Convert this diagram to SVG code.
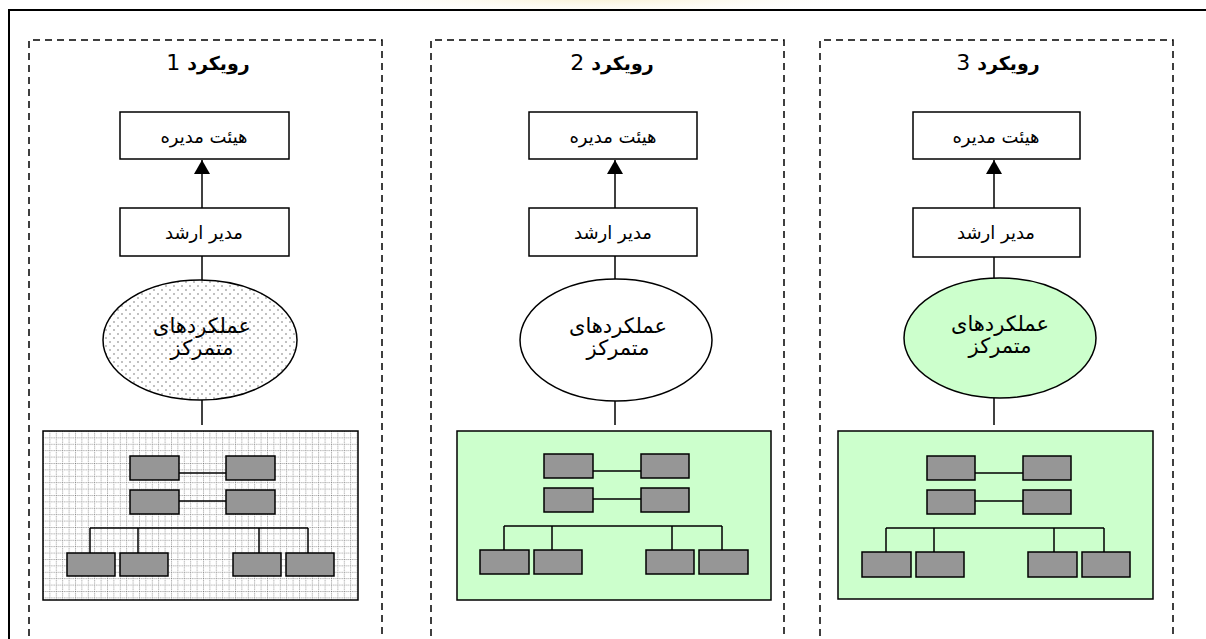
<svg xmlns="http://www.w3.org/2000/svg" width="1206" height="639" viewBox="0 0 1206 639">
<style>
.frame{fill:none;stroke:#000;stroke-width:2}
.panel{fill:none;stroke:#000;stroke-width:1.5;stroke-dasharray:7 5}
.box{fill:#fff;stroke:#000;stroke-width:1.5}
.ell{stroke:#000;stroke-width:1.5}
.org{stroke:#000;stroke-width:1.5}
.mini{fill:#969696;stroke:#000;stroke-width:1.5}
.ln{fill:none;stroke:#000;stroke-width:1.5}
.lbl{font-family:"DejaVu Sans","Noto Sans",sans-serif;font-size:18px;fill:#000;text-anchor:middle}
.el{font-family:"DejaVu Sans","Noto Sans",sans-serif;font-size:21px;fill:#000;text-anchor:middle}
.ttl{font-family:"DejaVu Sans","Noto Sans",sans-serif;font-size:22px;fill:#000;text-anchor:middle}
.tw{font-weight:bold;font-size:19px}
</style>
<defs>
<marker id="ah" markerUnits="userSpaceOnUse" markerWidth="16" markerHeight="16" refX="14" refY="8" orient="auto">
<path d="M0,0 L14,8 L0,16 Z" fill="#000"/>
</marker>
<pattern id="dots" width="8" height="8" patternUnits="userSpaceOnUse">
<rect width="8" height="8" fill="#fff"/>
<circle cx="2" cy="2" r="0.7" fill="#555"/>
<circle cx="6" cy="6" r="0.7" fill="#555"/>
</pattern>
<pattern id="grid" width="6.4" height="6.4" patternUnits="userSpaceOnUse" x="43" y="431">
<rect width="6.4" height="6.4" fill="#fff"/>
<path d="M0,0.5 H6.4 M0.5,0 V6.4" stroke="#666" stroke-width="0.7" stroke-dasharray="1 1.1"/>
</pattern>
<radialGradient id="wm" cx="0.5" cy="0.5" r="0.5">
<stop offset="0" stop-color="#f7ecc4"/>
<stop offset="1" stop-color="#fff" stop-opacity="0"/>
</radialGradient>
</defs>
<rect width="1206" height="639" fill="#fff"/>
<ellipse cx="600" cy="-5" rx="290" ry="22" fill="url(#wm)"/>
<path class="frame" d="M9,660 V10 H1210"/>

<g id="panel1">
<path class="panel" d="M29,660 V40 H382 V660"/>
<text class="ttl" x="208" y="70" direction="rtl"><tspan class="tw">رویکرد</tspan> 1</text>
</g>
<g id="panel2">
<path class="panel" d="M431,660 V40 H784 V660"/>
<text class="ttl" x="612" y="70" direction="rtl"><tspan class="tw">رویکرد</tspan>  2</text>
</g>
<g id="panel3">
<path class="panel" d="M820,660 V40 H1173 V660"/>
<text class="ttl" x="998" y="70" direction="rtl"><tspan class="tw">رویکرد</tspan> 3</text>
</g>

<g id="connectors">
<line class="ln" x1="202" y1="208" x2="202" y2="160" marker-end="url(#ah)"/>
<line class="ln" x1="202" y1="256" x2="202" y2="280"/>
<line class="ln" x1="202" y1="400" x2="202" y2="425"/>
<line class="ln" x1="615" y1="208" x2="615" y2="160" marker-end="url(#ah)"/>
<line class="ln" x1="615" y1="256" x2="615" y2="279"/>
<line class="ln" x1="615" y1="401" x2="615" y2="425"/>
<line class="ln" x1="994" y1="208" x2="994" y2="160" marker-end="url(#ah)"/>
<line class="ln" x1="994" y1="257" x2="994" y2="278"/>
<line class="ln" x1="994" y1="398" x2="994" y2="425"/>
</g>

<g id="p1-board"><rect class="box" x="120" y="112" width="169" height="47"/><text class="lbl" x="204" y="143" direction="rtl">هیئت مدیره</text></g>
<g id="p1-senior"><rect class="box" x="120" y="208" width="169" height="48"/><text class="lbl" x="204" y="239" direction="rtl">مدیر ارشد</text></g>
<g id="p1-central"><ellipse class="ell" cx="200" cy="340" rx="97" ry="60" fill="url(#dots)"/><text class="el" x="202" y="333" direction="rtl">عملکردهای</text><text class="el" x="202" y="355" direction="rtl">متمرکز</text></g>
<g id="p1-org">
<rect class="org" x="43" y="431" width="315" height="169" fill="url(#grid)"/>
<path class="ln" d="M179,473 H226 M179,501 H226 M90,528 H308 M90,528 V553 M138,528 V553 M259,528 V553 M308,528 V553"/>
<rect class="mini" x="130" y="456" width="49" height="24"/><rect class="mini" x="226" y="456" width="49" height="24"/>
<rect class="mini" x="130" y="490" width="49" height="24"/><rect class="mini" x="226" y="490" width="49" height="24"/>
<rect class="mini" x="67" y="553" width="48" height="23"/><rect class="mini" x="120" y="553" width="48" height="23"/>
<rect class="mini" x="233" y="553" width="48" height="23"/><rect class="mini" x="286" y="553" width="48" height="23"/>
</g>

<g id="p2-board"><rect class="box" x="529" y="112" width="168" height="47"/><text class="lbl" x="613" y="143" direction="rtl">هیئت مدیره</text></g>
<g id="p2-senior"><rect class="box" x="529" y="208" width="168" height="48"/><text class="lbl" x="613" y="239" direction="rtl">مدیر ارشد</text></g>
<g id="p2-central"><ellipse class="ell" cx="616" cy="340" rx="96" ry="61" fill="#fff"/><text class="el" x="618" y="333" direction="rtl">عملکردهای</text><text class="el" x="618" y="355" direction="rtl">متمرکز</text></g>
<g id="p2-org">
<rect class="org" x="457" y="431" width="314" height="169" fill="#ccffcc"/>
<path class="ln" d="M593,471 H641 M593,499 H641 M504,526 H722 M504,526 V550 M552,526 V550 M672,526 V550 M722,526 V550"/>
<rect class="mini" x="544" y="454" width="49" height="24"/><rect class="mini" x="641" y="454" width="48" height="24"/>
<rect class="mini" x="544" y="488" width="49" height="24"/><rect class="mini" x="641" y="488" width="48" height="24"/>
<rect class="mini" x="480" y="550" width="49" height="24"/><rect class="mini" x="534" y="550" width="48" height="24"/>
<rect class="mini" x="646" y="550" width="48" height="24"/><rect class="mini" x="699" y="550" width="49" height="24"/>
</g>

<g id="p3-board"><rect class="box" x="913" y="112" width="167" height="47"/><text class="lbl" x="996" y="143" direction="rtl">هیئت مدیره</text></g>
<g id="p3-senior"><rect class="box" x="913" y="208" width="167" height="49"/><text class="lbl" x="996" y="239" direction="rtl">مدیر ارشد</text></g>
<g id="p3-central"><ellipse class="ell" cx="1000" cy="338" rx="96" ry="60" fill="#ccffcc"/><text class="el" x="1000" y="331" direction="rtl">عملکردهای</text><text class="el" x="1000" y="353" direction="rtl">متمرکز</text></g>
<g id="p3-org">
<rect class="org" x="838" y="431" width="315" height="168" fill="#ccffcc"/>
<path class="ln" d="M975,473 H1023 M975,501 H1023 M886,528 H1104 M886,528 V552 M934,528 V552 M1054,528 V552 M1104,528 V552"/>
<rect class="mini" x="927" y="456" width="48" height="24"/><rect class="mini" x="1023" y="456" width="48" height="24"/>
<rect class="mini" x="927" y="490" width="48" height="24"/><rect class="mini" x="1023" y="490" width="48" height="24"/>
<rect class="mini" x="862" y="552" width="49" height="25"/><rect class="mini" x="916" y="552" width="48" height="25"/>
<rect class="mini" x="1028" y="552" width="49" height="25"/><rect class="mini" x="1082" y="552" width="48" height="25"/>
</g>
</svg>
